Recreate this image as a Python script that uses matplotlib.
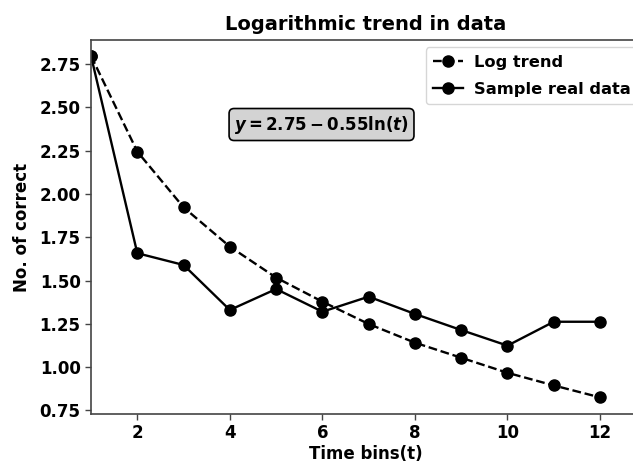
import matplotlib
matplotlib.use("Agg")
import matplotlib.pyplot as plt

t_bins = [1, 2, 3, 4, 5, 6, 7, 8, 9, 10, 11, 12]
log_trend = [2.798, 2.245, 1.923, 1.696, 1.517, 1.378, 1.249, 1.141, 1.054, 0.967, 0.894, 0.825]
real_data = [2.798, 1.658, 1.590, 1.330, 1.451, 1.320, 1.407, 1.307, 1.214, 1.124, 1.262, 1.262]
x_ticks = [2, 4, 6, 8, 10, 12]
y_ticks = [0.75, 1.00, 1.25, 1.50, 1.75, 2.00, 2.25, 2.50, 2.75]

plt.rcParams['font.family'] = ['DejaVu Sans']
plt.rcParams['mathtext.fontset'] = 'dejavusans'

fig = plt.figure(figsize=(6.33, 4.66), dpi=100)
ax = fig.add_axes([0.1438, 0.1116, 0.867, 0.8026])

ax.plot(t_bins, log_trend, 'k--', marker='o', markersize=8, linewidth=1.7, label='Log trend')
ax.plot(t_bins, real_data, 'k-', marker='o', markersize=8, linewidth=1.7, label='Sample real data')

ax.set_xlim(1, 12.86)
ax.set_ylim(0.729, 2.89)
ax.set_xticks(x_ticks)
ax.set_yticks(y_ticks)
ax.set_yticklabels([f"{v:.2f}" for v in y_ticks])
for lab in ax.get_xticklabels() + ax.get_yticklabels():
    lab.set_fontweight('bold')
    lab.set_fontsize(12)

for s in ax.spines.values():
    s.set_color('#444444')
    s.set_linewidth(1.2)
ax.tick_params(colors='#444444', labelcolor='black', length=4, width=1.0)

ax.set_title('Logarithmic trend in data', fontsize=14, fontweight='bold', pad=7)
ax.set_xlabel('Time bins(t)', fontsize=12, fontweight='bold', labelpad=2)
ax.set_ylabel('No. of correct', fontsize=12, fontweight='bold', labelpad=6)

ax.text(0.42, 0.774, r'$\mathbfit{y}\mathbf{=2.75-0.55ln(}\mathbfit{t}\mathbf{)}$',
        transform=ax.transAxes, fontsize=12, ha='center', va='center',
        bbox=dict(boxstyle='round,pad=0.3', facecolor='#d3d3d3', edgecolor='black', linewidth=1.2))

leg = ax.legend(loc='upper right', prop={'weight': 'bold', 'size': 11.7}, handlelength=1.8,
                handletextpad=0.7, labelspacing=0.75, borderpad=0.45, borderaxespad=0.45,
                frameon=True, bbox_to_anchor=(1.01, 1.0))

fig.savefig('out.png', dpi=100)
